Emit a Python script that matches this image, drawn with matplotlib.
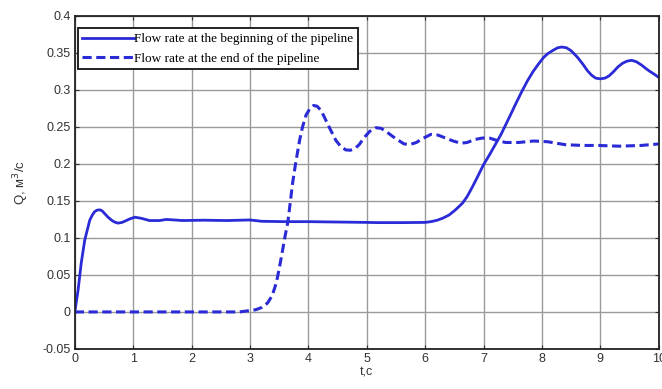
import matplotlib
matplotlib.use("Agg")
import matplotlib.pyplot as plt

# Flow rate at the beginning of the pipeline
t_begin = [0.0, 0.057, 0.11, 0.17, 0.256, 0.3, 0.34, 0.38, 0.43, 0.47, 0.51, 0.57, 0.63,
           0.68, 0.74, 0.81, 0.88, 0.95, 1.03, 1.14, 1.28, 1.45, 1.57, 1.85, 2.2, 2.6, 3.0,
           3.2, 3.6, 4.0, 4.5, 5.0, 5.2, 5.6, 6.0, 6.1, 6.21, 6.31, 6.41, 6.52, 6.64, 6.72,
           6.81, 6.9, 7.0, 7.1, 7.2, 7.3, 7.38, 7.46, 7.55, 7.65, 7.75, 7.85, 7.95, 8.03,
           8.1, 8.2, 8.27, 8.34, 8.42, 8.5, 8.6, 8.7, 8.78, 8.85, 8.92, 9.0, 9.08, 9.15,
           9.23, 9.3, 9.38, 9.46, 9.54, 9.62, 9.7, 9.78, 9.85, 9.93, 10.0]
q_begin = [0.0, 0.03, 0.066, 0.097, 0.124, 0.131, 0.1355, 0.1375, 0.138, 0.1365, 0.133,
           0.128, 0.124, 0.1215, 0.12, 0.121, 0.1235, 0.126, 0.128, 0.1265, 0.1235, 0.1235,
           0.125, 0.1235, 0.124, 0.1235, 0.1243, 0.1225, 0.122, 0.122, 0.1215, 0.121, 0.1207,
           0.1207, 0.121, 0.122, 0.124, 0.127, 0.131, 0.138, 0.147, 0.156, 0.169, 0.183,
           0.199, 0.212, 0.226, 0.24, 0.253, 0.266, 0.281, 0.297, 0.312, 0.325, 0.336,
           0.344, 0.349, 0.354, 0.357, 0.358, 0.357, 0.353, 0.345, 0.335, 0.326, 0.32,
           0.316, 0.315, 0.316, 0.319, 0.325, 0.331, 0.336, 0.339, 0.34, 0.338, 0.334,
           0.329, 0.325, 0.321, 0.317]

# Flow rate at the end of the pipeline
t_end = [0.0, 1.0, 2.0, 2.82, 3.1, 3.2, 3.3, 3.38, 3.45, 3.5, 3.56, 3.6, 3.65, 3.69, 3.73,
         3.78, 3.85, 3.9, 3.96, 4.02, 4.09, 4.15, 4.22, 4.3, 4.38, 4.47, 4.55, 4.64, 4.72,
         4.8, 4.87, 4.95, 5.05, 5.16, 5.25, 5.38, 5.5, 5.64, 5.75, 5.85, 5.95, 6.1, 6.22,
         6.35, 6.48, 6.61, 6.72, 6.85, 6.98, 7.1, 7.22, 7.38, 7.6, 7.86, 8.1, 8.4, 8.7,
         8.97, 9.32, 9.7, 10.0]
q_end = [0.0, 0.0, 0.0, 0.0, 0.003, 0.006, 0.012, 0.022, 0.039, 0.058, 0.084, 0.102, 0.122,
         0.148, 0.174, 0.2, 0.232, 0.25, 0.266, 0.274, 0.279, 0.278, 0.272, 0.259, 0.246,
         0.232, 0.224, 0.219, 0.2185, 0.221, 0.226, 0.235, 0.244, 0.249, 0.248, 0.241,
         0.234, 0.227, 0.2265, 0.229, 0.234, 0.24, 0.239, 0.235, 0.231, 0.228, 0.229,
         0.233, 0.235, 0.235, 0.232, 0.229, 0.229, 0.231, 0.23, 0.226, 0.225, 0.225,
         0.224, 0.225, 0.227]

x_ticks = [0, 1, 2, 3, 4, 5, 6, 7, 8, 9, 10]
y_ticks = [-0.05, 0, 0.05, 0.1, 0.15, 0.2, 0.25, 0.3, 0.35, 0.4]
y_tick_labels = ["-0.05", "0", "0.05", "0.1", "0.15", "0.2", "0.25", "0.3", "0.35", "0.4"]
legend_labels = ["Flow rate at the beginning of the pipeline", "Flow rate at the end of the pipeline"]

plt.rcParams['font.family'] = ['Liberation Sans', 'DejaVu Sans']

fig = plt.figure(figsize=(6.62, 3.89), dpi=100)
ax = fig.add_axes([0.113, 0.103, 0.882, 0.856])

color = "#2a2ad6"
ax.plot(t_begin, q_begin, color=color, lw=2.0, label=legend_labels[0])
ax.plot(t_end, q_end, color=color, lw=2.2, linestyle=(0, (3, 1.5)), label=legend_labels[1])

ax.set_xlim(0, 10)
ax.set_ylim(-0.05, 0.4)
ax.set_xticks(x_ticks)
ax.set_xticklabels([str(v) for v in x_ticks])
ax.set_yticks(y_ticks)
ax.set_yticklabels(y_tick_labels)
ax.grid(True, color="#9a9a9a", lw=1.0)
ax.set_axisbelow(True)
ax.tick_params(direction="in", top=True, right=True, labelsize=9, length=3, pad=3,
               colors="#333333", labelcolor="#333333")
for s in ax.spines.values():
    s.set_color("#222222")
    s.set_linewidth(1.3)

ax.set_xlabel("t,с", fontsize=9, color="#333333", labelpad=1)
ax.set_ylabel("Q, м$^3$/с", fontsize=9.5, color="#333333", labelpad=8)

leg = ax.legend(loc="upper left", bbox_to_anchor=(0.005, 0.963), fancybox=False,
                shadow=False, framealpha=1, edgecolor="#222222", handlelength=3.9,
                handletextpad=0.0, borderpad=0.35, labelspacing=0.55, borderaxespad=0,
                prop={'family': 'Liberation Serif', 'size': 9.5})
leg.get_frame().set_linewidth(1.4)

fig.savefig("out.png", dpi=100)
